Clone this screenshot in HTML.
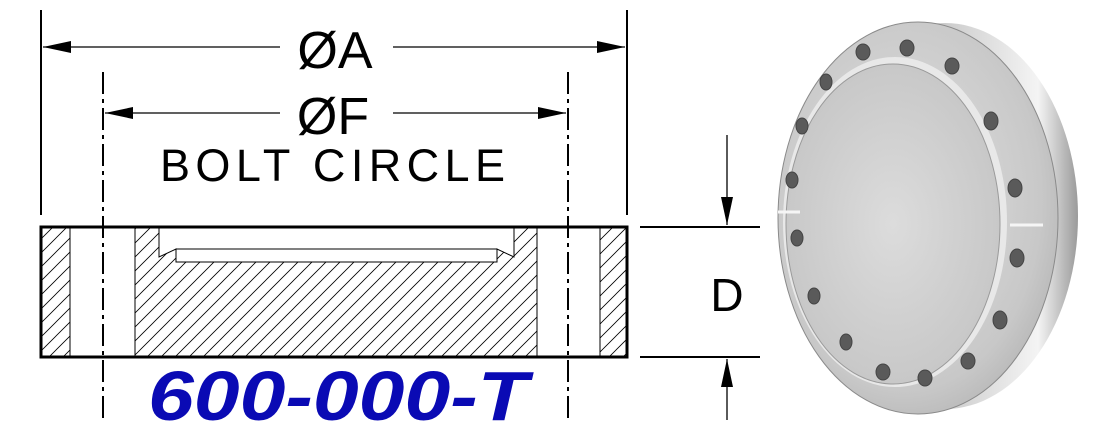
<!DOCTYPE html>
<html><head><style>html,body{margin:0;padding:0;background:#fff}svg{display:block}</style></head>
<body>
<svg width="1098" height="439" viewBox="0 0 1098 439" xmlns="http://www.w3.org/2000/svg">
<defs>
<pattern id="h" patternUnits="userSpaceOnUse" width="14" height="14" patternTransform="rotate(0)">
<path d="M-2,16 L16,-2 M-9,9 L9,-9 M5,23 L23,5" stroke="#000" stroke-width="0.8"/>
</pattern>
<marker id="ar" markerWidth="28" markerHeight="12" refX="28" refY="6" orient="auto" markerUnits="userSpaceOnUse">
<path d="M0,0 L28,6 L0,12 Z" fill="#000"/>
</marker>
<linearGradient id="rim" x1="0" x2="1" y1="0" y2="0">
<stop offset="0" stop-color="#8a8a8a"/><stop offset="0.6" stop-color="#d8d8d8"/><stop offset="0.85" stop-color="#f4f4f4"/><stop offset="1" stop-color="#9a9a9a"/>
</linearGradient>
<radialGradient id="face" cx="0.45" cy="0.45" r="0.7">
<stop offset="0" stop-color="#e2e2e2"/><stop offset="0.7" stop-color="#c8c8c8"/><stop offset="1" stop-color="#a8a8a8"/>
</radialGradient>
<radialGradient id="disc" cx="0.5" cy="0.5" r="0.6">
<stop offset="0" stop-color="#dcdcdc"/><stop offset="1" stop-color="#c4c4c4"/>
</radialGradient>
</defs>

<!-- dimension A -->
<line x1="41" y1="10" x2="41" y2="215" stroke="#000" stroke-width="2"/>
<line x1="627" y1="10" x2="627" y2="215" stroke="#000" stroke-width="2"/>
<line x1="280" y1="47" x2="43" y2="47" stroke="#000" stroke-width="1.3" marker-end="url(#ar)"/>
<line x1="393" y1="47" x2="625" y2="47" stroke="#000" stroke-width="1.3" marker-end="url(#ar)"/>
<text x="335" y="68" font-family="Liberation Sans, sans-serif" font-size="52" text-anchor="middle">ØA</text>

<!-- dimension F -->
<line x1="280" y1="113" x2="105" y2="113" stroke="#000" stroke-width="1.3" marker-end="url(#ar)"/>
<line x1="393" y1="113" x2="566" y2="113" stroke="#000" stroke-width="1.3" marker-end="url(#ar)"/>
<text x="333" y="134" font-family="Liberation Sans, sans-serif" font-size="52" text-anchor="middle">ØF</text>
<text x="160" y="181" font-family="Liberation Sans, sans-serif" font-size="45" textLength="345" lengthAdjust="spacing">BOLT CIRCLE</text>

<!-- center lines -->
<line x1="103" y1="72" x2="103" y2="418" stroke="#000" stroke-width="2" stroke-dasharray="22,5,4,5"/>
<line x1="568" y1="72" x2="568" y2="418" stroke="#000" stroke-width="2" stroke-dasharray="22,5,4,5"/>

<!-- section -->
<rect x="41" y="227" width="29" height="130" fill="url(#h)"/>
<rect x="600" y="227" width="27" height="130" fill="url(#h)"/>
<path d="M135,227 L159,227 L159,257 L176,249 L176,262 L497,262 L497,249 L514,257 L514,227 L537,227 L537,357 L135,357 Z" fill="url(#h)" stroke="#000" stroke-width="1"/>
<rect x="176" y="249" width="321" height="13" fill="#fff" stroke="#000" stroke-width="1"/>
<line x1="70" y1="227" x2="70" y2="357" stroke="#000" stroke-width="1"/>
<line x1="600" y1="227" x2="600" y2="357" stroke="#000" stroke-width="1"/>
<rect x="41" y="227" width="586" height="130" fill="none" stroke="#000" stroke-width="3"/>

<!-- dimension D -->
<line x1="640" y1="227" x2="760" y2="227" stroke="#000" stroke-width="2"/>
<line x1="640" y1="357" x2="760" y2="357" stroke="#000" stroke-width="2"/>
<line x1="727" y1="135" x2="727" y2="225" stroke="#000" stroke-width="1.3" marker-end="url(#ar)"/>
<line x1="727" y1="420" x2="727" y2="359" stroke="#000" stroke-width="1.3" marker-end="url(#ar)"/>
<text x="727" y="311" font-family="Liberation Sans, sans-serif" font-size="46" text-anchor="middle">D</text>

<text x="148" y="420" font-family="Liberation Sans, sans-serif" font-size="70" font-weight="bold" font-style="italic" fill="#0a0ab4" textLength="380" lengthAdjust="spacingAndGlyphs">600-000-T</text>

<!-- photo -->
<ellipse cx="945" cy="216" rx="133" ry="193" fill="url(#rim)"/>
<ellipse cx="918" cy="218" rx="140" ry="196" fill="url(#face)" stroke="#8a8a8a" stroke-width="1"/>
<ellipse cx="895" cy="222" rx="112" ry="165" fill="#e8e8e8"/>
<ellipse cx="893" cy="224" rx="107" ry="160" fill="url(#disc)" stroke="#9a9a9a" stroke-width="1"/>
<g fill="#5a5a5a" stroke="#444" stroke-width="1">
<ellipse cx="863" cy="52" rx="7" ry="8"/><ellipse cx="907" cy="48" rx="7" ry="8"/>
<ellipse cx="952" cy="66" rx="7" ry="8"/><ellipse cx="991" cy="121" rx="7" ry="9"/>
<ellipse cx="1015" cy="188" rx="7" ry="9"/><ellipse cx="1017" cy="258" rx="7" ry="9"/>
<ellipse cx="1000" cy="320" rx="7" ry="9"/><ellipse cx="968" cy="361" rx="7" ry="8"/>
<ellipse cx="925" cy="378" rx="7" ry="8"/><ellipse cx="883" cy="372" rx="7" ry="8"/>
<ellipse cx="846" cy="342" rx="6" ry="8"/><ellipse cx="814" cy="296" rx="6" ry="8"/>
<ellipse cx="797" cy="238" rx="6" ry="8"/><ellipse cx="792" cy="180" rx="6" ry="8"/>
<ellipse cx="802" cy="126" rx="6" ry="8"/><ellipse cx="826" cy="82" rx="6" ry="8"/>
</g>
<line x1="778" y1="212" x2="800" y2="212" stroke="#f5f5f5" stroke-width="3"/>
<line x1="1010" y1="225" x2="1043" y2="225" stroke="#f5f5f5" stroke-width="3"/>
</svg>
</body></html>
